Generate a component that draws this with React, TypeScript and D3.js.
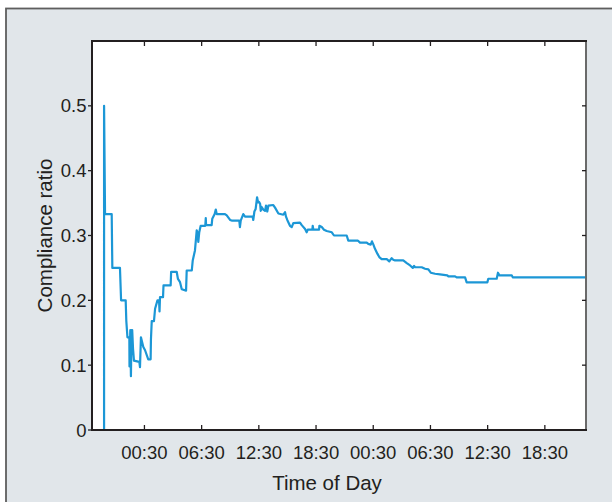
import React from "react";
import * as d3 from "d3";

// Elapsed minutes since the start of the recording (19:00, day 1)
const elapsedMinutes = [
  76, 76, 82, 124, 128, 176, 183, 212, 216, 223, 235, 236, 241, 245, 249, 253, 258, 264, 298, 302,
  308, 323, 334, 354, 369, 371, 376, 390, 397, 412, 422, 425, 428, 447, 450, 495, 498, 533, 541, 554,
  565, 592, 596, 628, 634, 648, 653, 659, 665, 669, 675, 684, 713, 716, 718, 753, 757, 772, 779, 785,
  837, 848, 869, 879, 927, 931, 936, 952, 963, 1011, 1015, 1022, 1030, 1039, 1045, 1051, 1058, 1062, 1068, 1078,
  1089, 1095, 1103, 1110, 1141, 1152, 1173, 1204, 1215, 1221, 1229, 1246, 1257, 1267, 1309, 1320, 1341, 1351, 1358, 1387,
  1389, 1393, 1429, 1431, 1446, 1460, 1477, 1509, 1523, 1603, 1613, 1674, 1687, 1729, 1739, 1754, 1762, 1771, 1781, 1796,
  1808, 1823, 1855, 1871, 1886, 1896, 1907, 1959, 1981, 2002, 2019, 2027, 2033, 2075, 2096, 2117, 2132, 2159, 2190, 2236,
  2243, 2285, 2295, 2348, 2358, 2488, 2494, 2547, 2555, 2564, 2642, 2648, 3109,
];

const complianceRatio = [
  0, 0.5, 0.333, 0.333, 0.25, 0.25, 0.2, 0.2, 0.168, 0.143, 0.143, 0.098, 0.154, 0.083, 0.154, 0.154, 0.126, 0.107, 0.105, 0.097,
  0.143, 0.128, 0.123, 0.109, 0.109, 0.14, 0.168, 0.168, 0.187, 0.2, 0.2, 0.183, 0.205, 0.205, 0.223, 0.223, 0.244, 0.244, 0.233, 0.228,
  0.217, 0.215, 0.246, 0.246, 0.2615, 0.277, 0.291, 0.308, 0.303, 0.29, 0.305, 0.315, 0.315, 0.327, 0.316, 0.316, 0.326, 0.333, 0.34, 0.333,
  0.333, 0.331, 0.324, 0.323, 0.323, 0.313, 0.323, 0.333, 0.329, 0.329, 0.324, 0.337, 0.341, 0.359, 0.351, 0.352, 0.349, 0.338, 0.344, 0.34,
  0.338, 0.346, 0.337, 0.346, 0.347, 0.343, 0.334, 0.332, 0.336, 0.329, 0.324, 0.315, 0.313, 0.319, 0.32, 0.316, 0.31, 0.305, 0.309, 0.309,
  0.315, 0.309, 0.309, 0.315, 0.313, 0.309, 0.307, 0.305, 0.3, 0.3, 0.292, 0.292, 0.289, 0.289, 0.287, 0.286, 0.291, 0.286, 0.2795, 0.272,
  0.2667, 0.2636, 0.2636, 0.26, 0.265, 0.2626, 0.2615, 0.2615, 0.2574, 0.2538, 0.25, 0.253, 0.251, 0.251, 0.2487, 0.2477, 0.2426, 0.241, 0.24, 0.2385,
  0.237, 0.237, 0.2354, 0.2354, 0.2277, 0.2277, 0.2333, 0.2333, 0.2426, 0.2385, 0.2385, 0.2354, 0.2354,
];

const startTime = new Date(2013, 0, 1, 19, 0);
const endMinutes = 3109;
const xTickMinutes = [330, 690, 1050, 1410, 1770, 2130, 2490, 2850];
const yTicks = [0, 0.1, 0.2, 0.3, 0.4, 0.5];
const yMax = 0.6;

const W = 612;
const H = 502;
const L = 92, R = 586, T = 41, B = 430;
const FONT = "'Liberation Sans', Arial, Helvetica, sans-serif";

export default function App() {
  const toDate = (m: number) => d3.timeMinute.offset(startTime, m);
  const x = d3.scaleTime().domain([startTime, toDate(endMinutes)]).range([L, R]);
  const y = d3.scaleLinear().domain([0, yMax]).range([B, T]);
  const fmt = d3.timeFormat("%H:%M");

  const pts = elapsedMinutes.map((m, i) => [toDate(m), complianceRatio[i]] as [Date, number]);
  const line = d3
    .line<[Date, number]>()
    .x((d) => x(d[0]))
    .y((d) => y(d[1]));

  const xTicks = xTickMinutes.map(toDate);

  return (
    <svg width={W} height={H} style={{ position: "absolute", left: 0, top: 0 }} fontFamily={FONT}>
      <rect x={6} y={8.5} width={W + 20} height={H + 20} fill="#e1e6ea" stroke="#5e5e5e" strokeWidth={1.8} />
      <rect x={L} y={T} width={R - L} height={B - T} fill="#ffffff" />
      <defs>
        <clipPath id="plotclip">
          <rect x={L} y={T} width={R - L} height={B - T} />
        </clipPath>
      </defs>
      <path d={line(pts) || ""} fill="none" stroke="#1c97d6" strokeWidth={2.2} strokeLinejoin="round" clipPath="url(#plotclip)" />

      {/* frame */}
      <line x1={R} y1={T} x2={R} y2={B} stroke="#6a6a6a" strokeWidth={2} />
      <line x1={L - 1} y1={T} x2={R + 1} y2={T} stroke="#231f20" strokeWidth={2} />
      <line x1={L - 1} y1={B} x2={R + 1} y2={B} stroke="#231f20" strokeWidth={2} />
      <line x1={L} y1={T} x2={L} y2={B + 1} stroke="#231f20" strokeWidth={2} />

      {/* x ticks */}
      {xTicks.map((t, i) => (
        <g key={"xt" + i}>
          <line x1={x(t)} x2={x(t)} y1={B} y2={B - 5} stroke="#231f20" strokeWidth={1.3} />
          <line x1={x(t)} x2={x(t)} y1={T} y2={T + 5} stroke="#231f20" strokeWidth={1.3} />
          <text x={x(t)} y={459} textAnchor="middle" fontSize={18.5} fill="#231f20">
            {fmt(t)}
          </text>
        </g>
      ))}

      {/* y ticks */}
      {yTicks.map((v, i) => (
        <g key={"yt" + i}>
          <line x1={L - 4} x2={L} y1={y(v)} y2={y(v)} stroke="#231f20" strokeWidth={1.3} />
          {v > 0 && <line x1={R - 4} x2={R} y1={y(v)} y2={y(v)} stroke="#231f20" strokeWidth={1.3} />}
          <text x={86.5} y={y(v)} dy="0.36em" textAnchor="end" fontSize={18.5} fill="#231f20">
            {v === 0 ? "0" : v.toFixed(1)}
          </text>
        </g>
      ))}

      <text x={327} y={490} textAnchor="middle" fontSize={20.5} fill="#231f20">
        Time of Day
      </text>
      <text transform={`translate(52, ${(T + B) / 2}) rotate(-90)`} textAnchor="middle" fontSize={20.5} fill="#231f20">
        Compliance ratio
      </text>
    </svg>
  );
}
